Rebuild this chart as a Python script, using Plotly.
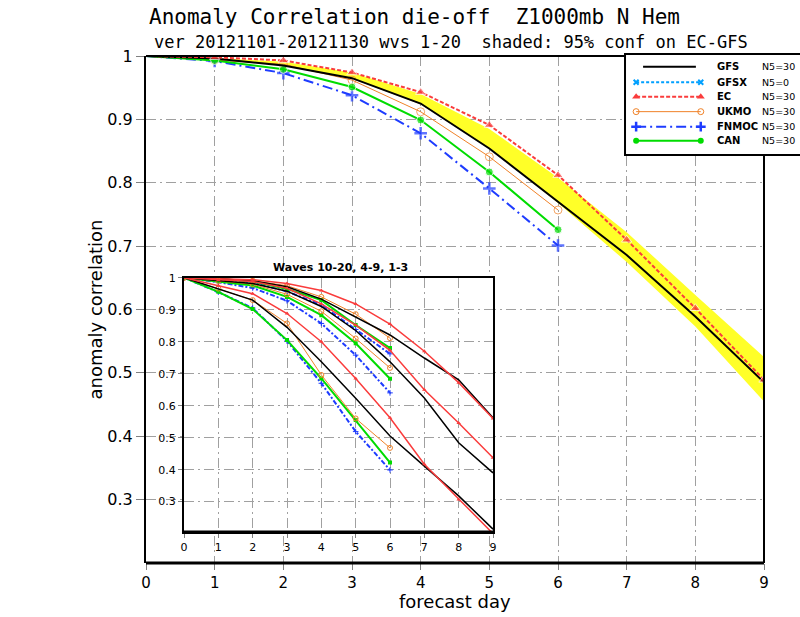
import plotly.graph_objects as go

# forecast days
days = [0, 1, 2, 3, 4, 5, 6, 7, 8, 9]
days6 = [0, 1, 2, 3, 4, 5, 6]

# main panel: waves 1-20
gfs = [1.0, 0.996, 0.985, 0.965, 0.925, 0.854, 0.770, 0.686, 0.589, 0.485]
ec = [1.0, 0.998, 0.993, 0.974, 0.943, 0.891, 0.812, 0.710, 0.602, 0.489]
ukmo = [1.0, 0.994, 0.987, 0.962, 0.912, 0.841, 0.757]
fnmoc = [1.0, 0.992, 0.973, 0.938, 0.878, 0.791, 0.701]
can = [1.0, 0.993, 0.979, 0.951, 0.899, 0.817, 0.726]
gfsx = []  # N5=0, nothing drawn

# 95% conf band on EC-GFS
conf_hi = [1.0, 0.997, 0.991, 0.974, 0.940, 0.885, 0.808, 0.722, 0.623, 0.525]
conf_lo = [1.0, 0.995, 0.985, 0.964, 0.924, 0.855, 0.768, 0.675, 0.573, 0.455]

# inset: waves 1-3
gfs_w13 = [1.0, 0.997, 0.990, 0.972, 0.933, 0.878, 0.821, 0.749, 0.681, 0.562]
ec_w13 = [1.0, 0.998, 0.994, 0.982, 0.960, 0.918, 0.855, 0.770, 0.672, 0.560]
ukmo_w13 = [1.0, 0.997, 0.991, 0.975, 0.940, 0.886, 0.811]
fnmoc_w13 = [1.0, 0.995, 0.985, 0.957, 0.915, 0.838, 0.762]
can_w13 = [1.0, 0.996, 0.988, 0.965, 0.930, 0.852, 0.780]
# inset: waves 4-9
gfs_w49 = [1.0, 0.991, 0.982, 0.958, 0.910, 0.835, 0.737, 0.624, 0.484, 0.390]
ec_w49 = [1.0, 0.993, 0.988, 0.967, 0.918, 0.852, 0.773, 0.650, 0.546, 0.437]
ukmo_w49 = [1.0, 0.990, 0.980, 0.948, 0.895, 0.810, 0.718]
fnmoc_w49 = [1.0, 0.986, 0.968, 0.928, 0.857, 0.758, 0.640]
can_w49 = [1.0, 0.989, 0.976, 0.940, 0.883, 0.795, 0.684]
# inset: waves 10-20
gfs_w1020 = [1.0, 0.965, 0.930, 0.845, 0.737, 0.623, 0.505, 0.411, 0.318, 0.214]
ec_w1020 = [1.0, 0.975, 0.950, 0.888, 0.800, 0.685, 0.562, 0.417, 0.307, 0.200]
ukmo_w1020 = [1.0, 0.966, 0.930, 0.857, 0.696, 0.560, 0.468]
fnmoc_w1020 = [1.0, 0.955, 0.905, 0.802, 0.670, 0.519, 0.399]
can_w1020 = [1.0, 0.956, 0.902, 0.805, 0.685, 0.555, 0.422]

main_yticks = [0.3, 0.4, 0.5, 0.6, 0.7, 0.8, 0.9, 1.0]
main_ylabels = ["0.3", "0.4", "0.5", "0.6", "0.7", "0.8", "0.9", "1"]

names = ["GFS", "GFSX", "EC", "UKMO", "FNMOC", "CAN"]
counts = ["N5=30", "N5=0", "N5=30", "N5=30", "N5=30", "N5=30"]

RED = "#fa3c3c"
ORANGE = "#f08228"
BLUE = "#1e3cff"
GREEN = "#00dc00"
CYAN = "#00a0ff"
YELLOW = "#ffff28"
GRID = "#a0a0a0"
FONT = "DejaVu Sans"
MONO = "DejaVu Sans Mono"

styles = {
    "GFS": dict(line=dict(color="black", width=2), marker=dict(size=1, opacity=0)),
    "GFSX": dict(line=dict(color=CYAN, width=2, dash="3px,2px"),
                 marker=dict(symbol="x-thin", size=6, color=CYAN, line=dict(color=CYAN, width=2))),
    "EC": dict(line=dict(color=RED, width=2, dash="4px,2px"),
               marker=dict(symbol="triangle-up", size=9, color=RED)),
    "UKMO": dict(line=dict(color=ORANGE, width=1),
                 marker=dict(symbol="circle-open", size=8, color=ORANGE, line=dict(color=ORANGE, width=1))),
    "FNMOC": dict(line=dict(color=BLUE, width=2, dash="10px,4px,2px,4px"),
                  marker=dict(symbol="cross-thin", size=9, color=BLUE, line=dict(color=BLUE, width=2.5))),
    "CAN": dict(line=dict(color=GREEN, width=2),
                marker=dict(symbol="circle", size=8, color=GREEN)),
}

# layout geometry (paper fractions of the main plot area)
INSET_X = [0.0615, 0.5615]
INSET_Y = [0.0611, 0.5627]
LEG_X = [0.7751, 1.0]
LEG_Y = [0.8047, 1.0]
X_RANGE = [0, 9]
Y_RANGE = [0.2, 1.0]

fig = go.Figure()

# confidence band
fig.add_trace(go.Scatter(x=days, y=conf_lo, mode="lines", line=dict(width=0, color=YELLOW),
                         showlegend=False, hoverinfo="skip"))
fig.add_trace(go.Scatter(x=days, y=conf_hi, mode="lines", line=dict(width=0, color=YELLOW),
                         fill="tonexty", fillcolor=YELLOW, showlegend=False, hoverinfo="skip"))

main_series = [("FNMOC", days6, fnmoc), ("UKMO", days6, ukmo), ("CAN", days6, can),
               ("GFS", days, gfs), ("EC", days, ec)]
for name, xs, ys in main_series:
    st = styles[name]
    sizes = [0] + [st["marker"]["size"]] * (len(xs) - 1)
    mk = dict(st["marker"])
    mk["size"] = sizes
    fig.add_trace(go.Scatter(x=xs, y=ys, mode="lines+markers" if name != "GFS" else "lines",
                             line=st["line"], marker=mk, name=name, showlegend=False))

# inset series
inset_sets = [
    (gfs_w13, ec_w13, ukmo_w13, fnmoc_w13, can_w13),
    (gfs_w49, ec_w49, ukmo_w49, fnmoc_w49, can_w49),
    (gfs_w1020, ec_w1020, ukmo_w1020, fnmoc_w1020, can_w1020),
]
for g, e, u, f, c in inset_sets:
    fig.add_trace(go.Scatter(x=days6, y=f, mode="lines+markers", xaxis="x2", yaxis="y2",
                             line=dict(color=BLUE, width=2, dash="5px,2px,2px,2px"),
                             marker=dict(symbol="cross-thin", size=4, line=dict(color=BLUE, width=1)),
                             showlegend=False))
    fig.add_trace(go.Scatter(x=days6, y=c, mode="lines+markers", xaxis="x2", yaxis="y2",
                             line=dict(color=GREEN, width=2),
                             marker=dict(symbol="square", size=4, color=GREEN), showlegend=False))
    fig.add_trace(go.Scatter(x=days6, y=u, mode="lines+markers", xaxis="x2", yaxis="y2",
                             line=dict(color=ORANGE, width=1),
                             marker=dict(symbol="circle-open", size=5, color=ORANGE), showlegend=False))
    fig.add_trace(go.Scatter(x=days, y=g, mode="lines", xaxis="x2", yaxis="y2",
                             line=dict(color="black", width=1.5), showlegend=False))
    fig.add_trace(go.Scatter(x=days, y=e, mode="lines+markers", xaxis="x2", yaxis="y2",
                             line=dict(color=RED, width=1.5),
                             marker=dict(symbol="triangle-up", size=4, color=RED), showlegend=False))

# legend samples (own hidden axes)
leg_rows = [0.892, 0.735, 0.589, 0.438, 0.286, 0.145]
for name, row in zip(names, leg_rows):
    st = styles[name]
    if name == "GFS":
        fig.add_trace(go.Scatter(x=[0.13, 0.51], y=[row, row], mode="lines", xaxis="x3", yaxis="y3",
                                 line=st["line"], showlegend=False, hoverinfo="skip"))
    else:
        mk = dict(st["marker"])
        mk["size"] = max(5, mk["size"] - 2)
        fig.add_trace(go.Scatter(x=[0.08, 0.545], y=[row, row], mode="lines+markers",
                                 xaxis="x3", yaxis="y3", line=st["line"], marker=mk,
                                 showlegend=False, hoverinfo="skip"))


def to_data(frac, rng):
    return rng[0] + frac * (rng[1] - rng[0])


frame = dict(color="black", width=2)
shapes = [
    # white box under the inset (hides the main grid there)
    dict(type="rect", xref="x", yref="y",
         x0=to_data(INSET_X[0], X_RANGE), x1=to_data(INSET_X[1], X_RANGE),
         y0=to_data(INSET_Y[0], Y_RANGE), y1=to_data(INSET_Y[1], Y_RANGE),
         fillcolor="white", line=dict(width=0), layer="between"),
    # white fill of the legend box
    dict(type="rect", xref="x3", yref="y3", x0=0, x1=1, y0=0, y1=1,
         fillcolor="white", line=dict(width=0), layer="between"),
    # main frame: top and right sides stop at the legend box
    dict(type="line", xref="paper", yref="paper", x0=0, x1=LEG_X[0], y0=1, y1=1,
         line=frame, layer="above"),
    dict(type="line", xref="paper", yref="paper", x0=1, x1=1, y0=0, y1=LEG_Y[0],
         line=frame, layer="above"),
    # thick bottom axis lines
    dict(type="line", xref="paper", yref="paper", x0=0, x1=1, y0=0, y1=0,
         line=dict(color="black", width=3), layer="above"),
    dict(type="line", xref="paper", yref="paper", x0=INSET_X[0], x1=INSET_X[1],
         y0=INSET_Y[0], y1=INSET_Y[0], line=dict(color="black", width=3), layer="above"),
    # legend box outline
    dict(type="rect", xref="paper", yref="paper", x0=LEG_X[0], x1=1.07, y0=LEG_Y[0], y1=1.004,
         line=dict(color="black", width=2), layer="above"),
]

annotations = [
    dict(text="Anomaly Correlation die-off  Z1000mb N Hem", xref="paper", yref="paper",
         x=0.0016, y=1.077, xanchor="left", yanchor="middle", showarrow=False,
         font=dict(family=MONO, size=21, color="black")),
    dict(text="ver 20121101-20121130 wvs 1-20  shaded: 95% conf on EC-GFS", xref="paper",
         yref="paper", x=0.0097, y=1.0276, xanchor="left", yanchor="middle", showarrow=False,
         font=dict(family=MONO, size=17, color="black")),
    dict(text="anomaly correlation", xref="paper", yref="paper", x=-0.0825, y=0.5,
         xanchor="center", yanchor="middle",
         textangle=-90, showarrow=False, font=dict(family=FONT, size=18, color="black")),
    dict(text="forecast day", xref="paper", yref="paper", x=0.5, y=-0.075,
         xanchor="center", yanchor="middle",
         showarrow=False, font=dict(family=FONT, size=18, color="black")),
    dict(text="<b>Waves 10-20, 4-9, 1-3</b>", xref="paper", yref="paper", x=0.314, y=0.5838,
         xanchor="center", yanchor="middle",
         showarrow=False, font=dict(family=FONT, size=11, color="black")),
]
for name, cnt, row in zip(names, counts, leg_rows):
    annotations.append(dict(text="<b>" + name + "</b>", xref="x3 domain", yref="y3 domain",
                            x=0.647, y=row, xanchor="left", yanchor="middle", showarrow=False,
                            font=dict(family=FONT, size=10, color="black")))
    annotations.append(dict(text=cnt, xref="x3 domain", yref="y3 domain", x=0.971, y=row,
                            xanchor="left", yanchor="middle", showarrow=False,
                            font=dict(family=FONT, size=9.5, color="black")))

axis_common = dict(showgrid=True, gridcolor=GRID, griddash="10px,4px,2px,4px", gridwidth=1,
                   zeroline=False, ticks="outside", tickcolor="#808080")

fig.update_layout(
    width=800, height=617,
    margin=dict(l=146, r=36, t=56, b=54, autoexpand=False),
    paper_bgcolor="white", plot_bgcolor="white",
    showlegend=False,
    font=dict(family=FONT, color="black"),
    xaxis=dict(axis_common, range=X_RANGE, tickvals=days, ticklen=6, showline=False,
               tickfont=dict(size=15), domain=[0, 1], automargin=False),
    yaxis=dict(axis_common, range=Y_RANGE, tickvals=main_yticks, ticktext=main_ylabels,
               showline=True, linecolor="black", linewidth=2,
               ticklen=8, tickfont=dict(size=16), domain=[0, 1], automargin=False),
    xaxis2=dict(axis_common, range=X_RANGE, tickvals=days, ticklen=4, tickfont=dict(size=11),
                showline=True, linecolor="black", linewidth=2, mirror=True,
                domain=INSET_X, anchor="y2", automargin=False),
    yaxis2=dict(axis_common, range=[0.205, 1.0], tickvals=main_yticks, ticktext=main_ylabels,
                showline=True, linecolor="black", linewidth=2, mirror=True,
                ticklen=4, tickfont=dict(size=11), domain=INSET_Y, anchor="x2", automargin=False),
    xaxis3=dict(range=[0, 1], visible=False, domain=LEG_X, anchor="y3", fixedrange=True),
    yaxis3=dict(range=[0, 1], visible=False, domain=LEG_Y, anchor="x3", fixedrange=True),
    shapes=shapes,
    annotations=annotations,
)

# the page body has a default 8px margin; drop it so the figure fills the window
fig.write_html("out.html", config={"displayModeBar": False},
               post_script="document.body.style.margin='0px';")
